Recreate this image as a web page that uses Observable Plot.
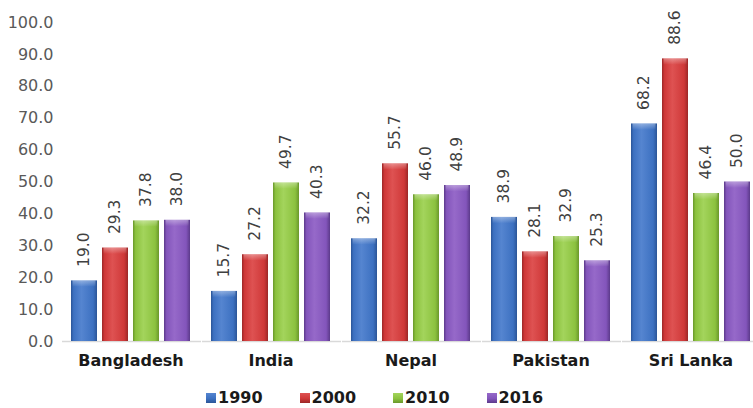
<!DOCTYPE html>
<html>
<head>
<meta charset="utf-8">
<script src="https://cdn.jsdelivr.net/npm/d3@7"></script>
<script src="https://cdn.jsdelivr.net/npm/@observablehq/plot@0.6"></script>
<style>
  html, body { margin: 0; padding: 0; background: #fff; overflow: hidden; }
  body { font-family: "DejaVu Sans", sans-serif; width: 753px; height: 408px; }
  #chart svg { display: block; }
  #legend { display: flex; height: 18px; margin-top: 4px; padding-left: 206px; }
  .item { display: flex; align-items: center; width: 93.5px; font-weight: bold; font-size: 16px; color: #1a1a1a; line-height: 18px; }
  .swatch { width: 10px; height: 10px; margin-right: 2px; flex: none; }
</style>
</head>
<body>
<div id="chart"></div>
<div id="legend"></div>
<script>
// Countries, survey years and the values for each year
const countries = ["Bangladesh", "India", "Nepal", "Pakistan", "Sri Lanka"];
const years = ["1990", "2000", "2010", "2016"];
const v1990 = [19.0, 15.7, 32.2, 38.9, 68.2];
const v2000 = [29.3, 27.2, 55.7, 28.1, 88.6];
const v2010 = [37.8, 49.7, 46.0, 32.9, 46.4];
const v2016 = [38.0, 40.3, 48.9, 25.3, 50.0];
const yTicks = [0, 10, 20, 30, 40, 50, 60, 70, 80, 90, 100];

// Shades per series: edge, body, highlight
const shades = {
  "1990": ["#2b5597", "#3d71c1", "#5585d0"],
  "2000": ["#9c2727", "#cf3838", "#de5252"],
  "2010": ["#6a982b", "#8cc23f", "#a3d45c"],
  "2016": ["#5c3a8a", "#8355bb", "#9669c9"]
};

const seriesValues = [v1990, v2000, v2010, v2016];
const rows = [];
countries.forEach((country, i) => {
  years.forEach((year, j) => rows.push({country, year, value: seriesValues[j][i]}));
});

const chart = Plot.plot({
  width: 753,
  height: 385,
  marginLeft: 69,
  marginRight: 1,
  marginTop: 22,
  marginBottom: 44,
  style: {fontFamily: "DejaVu Sans, sans-serif", fontSize: "16px", color: "#595959", background: "#fff"},
  fx: {domain: countries, paddingInner: 0.123, paddingOuter: 0, axis: null},
  x: {domain: years, paddingInner: 0.156, paddingOuter: 0, axis: null},
  y: {domain: [0, 100]},
  color: {domain: years, range: years.map(y => `url(#bar${y})`)},
  marks: [
    Plot.ruleY([0], {stroke: "#d9d9d9", strokeWidth: 1.5, insetLeft: -7, insetRight: -9}),
    Plot.barY(rows, {fx: "country", x: "year", y: "value", fill: "year"}),
    // bevelled cap at the top of each bar
    Plot.barY(rows, {fx: "country", x: "year", y1: d => d.value - 2, y2: "value",
      fill: d => `url(#cap${d.year})`, insetLeft: 1.5, insetRight: 1.5}),
    Plot.text(rows, {fx: "country", x: "year", y: "value", text: d => d.value.toFixed(1),
      rotate: -90, textAnchor: "start", dy: -14, fontSize: 15.5, fill: "#404040"}),
    Plot.axisY({ticks: yTicks, tickFormat: d => d.toFixed(1), tickSize: 0, tickPadding: 16,
      fontSize: 16, fill: "#595959", label: null}),
    Plot.text(countries, {fx: d => d, text: d => d, frameAnchor: "bottom", dy: 24,
      fontWeight: "bold", fontSize: 16, fill: "#1a1a1a"})
  ]
});

// Gradients giving the bars their rounded, shaded look
const svg = d3.select(chart);
const defs = svg.insert("defs", ":first-child");
years.forEach(year => {
  const [edge, body, hi] = shades[year];
  const g = defs.append("linearGradient").attr("id", `bar${year}`)
    .attr("x1", "0").attr("x2", "1").attr("y1", "0").attr("y2", "0");
  [[0, edge], [0.1, body], [0.4, hi], [0.85, body], [1, edge]].forEach(([o, c]) =>
    g.append("stop").attr("offset", o).attr("stop-color", c));
  const c = defs.append("linearGradient").attr("id", `cap${year}`)
    .attr("x1", "0").attr("x2", "0").attr("y1", "0").attr("y2", "1");
  [[0, "#ffffff", 0.35], [1, "#ffffff", 0]].forEach(([o, col, op]) =>
    c.append("stop").attr("offset", o).attr("stop-color", col).attr("stop-opacity", op));
});

document.getElementById("chart").appendChild(chart);

// Legend
const legend = d3.select("#legend");
years.forEach(year => {
  const [edge, body, hi] = shades[year];
  const item = legend.append("div").attr("class", "item");
  item.append("div").attr("class", "swatch")
    .style("background", `linear-gradient(to bottom, ${hi}, ${body} 55%, ${edge})`);
  item.append("span").text(year);
});
</script>
</body>
</html>
